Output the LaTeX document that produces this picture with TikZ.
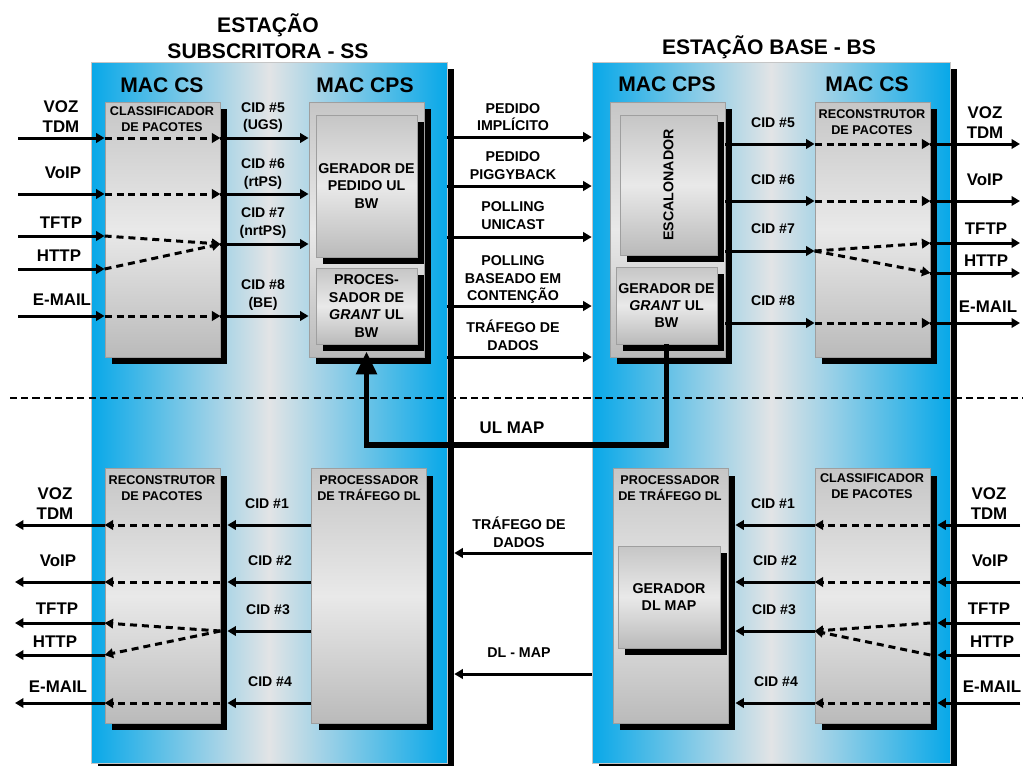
\documentclass[tikz,border=0pt]{standalone}
\usepackage{fontspec}
\setmainfont{Liberation Sans}
\usepackage{tikz}
\usetikzlibrary{arrows.meta,positioning,shadows,calc}
\definecolor{stblue}{RGB}{8,168,232}
\definecolor{stmid}{RGB}{226,228,230}
\definecolor{boxtop}{RGB}{198,198,198}
\definecolor{boxmid}{RGB}{233,233,233}
\definecolor{boxbot}{RGB}{186,186,186}
\tikzset{
  stbox/.style={draw=gray!45, left color=stblue, right color=stblue, middle color=stmid,
                minimum height=14.02cm, inner sep=0pt,
                drop shadow={shadow xshift=0.14cm, shadow yshift=-0.14cm, fill=black, opacity=1}},
  gbox/.style={draw=gray!75, line width=0.5pt, top color=boxtop, bottom color=boxbot,
               middle color=boxmid, minimum width=2.3cm, minimum height=5.1cm,
               inner sep=0pt, align=center, font=\fontsize{8.1}{9.9}\selectfont\bfseries,
               drop shadow={shadow xshift=0.14cm, shadow yshift=-0.14cm, fill=black, opacity=1}},
  vtxt/.style={rotate=90, font=\fontsize{8.1}{9.9}\selectfont\bfseries},
  ttl/.style={font=\fontsize{12}{14.7}\selectfont\bfseries, align=center},
  mac/.style={font=\fontsize{12}{14}\selectfont\bfseries},
  iolbl/.style={font=\fontsize{9.6}{11.3}\selectfont\bfseries, align=center},
  cid/.style={font=\fontsize{8}{10}\selectfont\bfseries, align=center},
  msg/.style={font=\fontsize{8.1}{10}\selectfont\bfseries, align=center},
  hdr/.style={font=\fontsize{7.2}{9.1}\selectfont\bfseries, align=center},
  arr/.style={line width=1.7pt, -{Triangle[length=1.7mm,width=1.9mm]}},
  dsh/.style={arr, dash pattern=on 4pt off 2.8pt},
  ulmap/.style={line width=3.4pt, line join=miter, -{Triangle[length=4.6mm,width=4mm]}},
  divider/.style={line width=1.3pt, dash pattern=on 4pt off 2.4pt}
}
\begin{document}
\begin{tikzpicture}[x=0.02cm, y=-0.02cm, every node/.style={inner sep=0pt}]
\useasboundingbox (0,0) rectangle (1023,765);

% estacoes
\node[stbox, minimum width=7.12cm] (ssBox) at (269,412.5) {};
\node[stbox, minimum width=7.16cm] (bsBox) at (771,412.5) {};
\node[ttl] (ssTtl) at (268,36) {ESTAÇÃO\\SUBSCRITORA - SS};
\node[ttl] (bsTtl) at (769,47) {ESTAÇÃO BASE - BS};
\node[mac] (ssCs) at (162,85) {MAC CS};
\node[mac] (ssCps) at (365,85) {MAC CPS};
\node[mac] (bsCps) at (667,84) {MAC CPS};
\node[mac] (bsCs) at (867,84) {MAC CS};

% blocos SS
\node[gbox] (clsS) at (162.5,229.5) {};
\node[gbox] (cpsS) at (366.5,229.5) {};
\node[gbox, minimum width=2.02cm, minimum height=2.84cm] (pedS) at (366.5,186) {GERADOR DE\\PEDIDO UL\\BW};
\node[gbox, minimum width=2.02cm, minimum height=1.52cm] (procS) at (366.5,306) {PROCES-\\SADOR DE\\\textit{GRANT} UL\\BW};
\node[gbox] (recS) at (162.5,596) {};
\node[gbox] (dlS) at (369,596) {};
\node[hdr] (clsSt) at (162,119) {CLASSIFICADOR\\DE PACOTES};
\node[hdr] (recSt) at (162,488) {RECONSTRUTOR\\DE PACOTES};
\node[hdr] (dlSt) at (369,488) {PROCESSADOR\\DE TRÁFEGO DL};

% blocos BS
\node[gbox] (cpsB) at (667.5,229.5) {};
\node[gbox, minimum width=1.94cm, minimum height=2.8cm] (escB) at (668.5,185) {};
\node[vtxt] (escBt) at (escB.center) {ESCALONADOR};
\node[gbox, minimum width=2.02cm, minimum height=1.54cm] (grantB) at (666.5,305.5) {GERADOR DE\\\textit{GRANT} UL\\BW};
\node[gbox] (recB) at (872.5,229.5) {};
\node[gbox] (dlB) at (670.5,596) {};
\node[gbox, minimum width=2.04cm, minimum height=2.04cm] (mapB) at (669,597) {GERADOR\\DL MAP};
\node[gbox] (clsB) at (872.5,596) {};
\node[hdr] (recBt) at (872,122) {RECONSTRUTOR\\DE PACOTES};
\node[hdr] (dlBt) at (670,488) {PROCESSADOR\\DE TRÁFEGO DL};
\node[hdr] (clsBt) at (872,486) {CLASSIFICADOR\\DE PACOTES};

% rotulos SS uplink
\node[iolbl] (lVozS) at (61,117) {VOZ\\TDM};
\node[iolbl] (lVoipS) at (63,173) {VoIP};
\node[iolbl] (lTftpS) at (61,223) {TFTP};
\node[iolbl] (lHttpS) at (59,256) {HTTP};
\node[iolbl] (lMailS) at (62,300) {E-MAIL};
\node[cid] (cid5S) at (263,117.5) {CID \#5\\(UGS)};
\node[cid] (cid6S) at (263,174) {CID \#6\\(rtPS)};
\node[cid] (cid7S) at (263,223) {CID \#7\\(nrtPS)};
\node[cid] (cid8S) at (263,295) {CID \#8\\(BE)};

% rotulos entre estacoes
\node[msg] (lImp) at (513,117) {PEDIDO\\IMPLÍCITO};
\node[msg] (lPig) at (513,165.5) {PEDIDO\\PIGGYBACK};
\node[msg] (lUni) at (513,215.5) {POLLING\\UNICAST};
\node[msg] (lCon) at (513,279.5) {POLLING\\BASEADO EM\\CONTENÇÃO};
\node[msg] (lDadU) at (513,335.5) {TRÁFEGO DE\\DADOS};
\node[iolbl] (lUlm) at (512,428) {UL MAP};
\node[msg] (lDadD) at (519,532.5) {TRÁFEGO DE\\DADOS};
\node[msg] (lDlm) at (519,653) {DL - MAP};

% rotulos BS uplink
\node[cid] (cid5B) at (773,123) {CID \#5};
\node[cid] (cid6B) at (773,180) {CID \#6};
\node[cid] (cid7B) at (773,229) {CID \#7};
\node[cid] (cid8B) at (773,301) {CID \#8};
\node[iolbl] (lVozB) at (985,123) {VOZ\\TDM};
\node[iolbl] (lVoipB) at (985,180) {VoIP};
\node[iolbl] (lTftpB) at (986,229) {TFTP};
\node[iolbl] (lHttpB) at (986,261) {HTTP};
\node[iolbl] (lMailB) at (988,307) {E-MAIL};

% rotulos downlink
\node[iolbl] (dVozS) at (55,503.5) {VOZ\\TDM};
\node[iolbl] (dVoipS) at (58,561) {VoIP};
\node[iolbl] (dTftpS) at (57,609) {TFTP};
\node[iolbl] (dHttpS) at (55,642) {HTTP};
\node[iolbl] (dMailS) at (58,687) {E-MAIL};
\node[cid] (cid1S) at (267,504) {CID \#1};
\node[cid] (cid2S) at (270,561) {CID \#2};
\node[cid] (cid3S) at (268,610) {CID \#3};
\node[cid] (cid4S) at (270,682) {CID \#4};
\node[cid] (cid1B) at (773,504) {CID \#1};
\node[cid] (cid2B) at (775,561) {CID \#2};
\node[cid] (cid3B) at (774,610) {CID \#3};
\node[cid] (cid4B) at (776,682) {CID \#4};
\node[iolbl] (dVozB) at (989,503.5) {VOZ\\TDM};
\node[iolbl] (dVoipB) at (990,561) {VoIP};
\node[iolbl] (dTftpB) at (989,609) {TFTP};
\node[iolbl] (dHttpB) at (992,642) {HTTP};
\node[iolbl] (dMailB) at (992,687) {E-MAIL};

% divisao UL / DL
\coordinate (dvL) at (10,398);
\coordinate (dvR) at (1023,398);
\draw[divider] (dvL) -- (dvR);

% SS uplink
\coordinate (inVozS) at (18,138);
\coordinate (inVoipS) at (18,194);
\coordinate (inTftpS) at (18,236);
\coordinate (inHttpS) at (18,269);
\coordinate (inMailS) at (18,316);
\coordinate (mrgS) at (clsS.east |- 0,244);
\draw[arr] (inVozS) -- (clsS.west |- inVozS);
\draw[dsh] (clsS.west |- inVozS) -- (clsS.east |- inVozS);
\draw[arr] (clsS.east |- inVozS) -- (cpsS.west |- inVozS);
\draw[arr] (inVoipS) -- (clsS.west |- inVoipS);
\draw[dsh] (clsS.west |- inVoipS) -- (clsS.east |- inVoipS);
\draw[arr] (clsS.east |- inVoipS) -- (cpsS.west |- inVoipS);
\draw[arr] (inTftpS) -- (clsS.west |- inTftpS);
\draw[arr] (inHttpS) -- (clsS.west |- inHttpS);
\draw[dsh] (clsS.west |- inTftpS) -- (mrgS);
\draw[dsh] (clsS.west |- inHttpS) -- (mrgS);
\draw[arr] (mrgS) -- (cpsS.west |- mrgS);
\draw[arr] (inMailS) -- (clsS.west |- inMailS);
\draw[dsh] (clsS.west |- inMailS) -- (clsS.east |- inMailS);
\draw[arr] (clsS.east |- inMailS) -- (cpsS.west |- inMailS);

% SS -> BS
\coordinate (pImp) at (ssBox.east |- 0,137);
\coordinate (pPig) at (ssBox.east |- 0,186);
\coordinate (pUni) at (ssBox.east |- 0,237);
\coordinate (pCon) at (ssBox.east |- 0,306);
\coordinate (pDad) at (ssBox.east |- 0,357);
\draw[arr] (pImp) -- (bsBox.west |- pImp);
\draw[arr] (pPig) -- (bsBox.west |- pPig);
\draw[arr] (pUni) -- (bsBox.west |- pUni);
\draw[arr] (pCon) -- (bsBox.west |- pCon);
\draw[arr] (pDad) -- (bsBox.west |- pDad);

% BS uplink
\coordinate (c5B) at (cpsB.east |- 0,144);
\coordinate (c6B) at (cpsB.east |- 0,201);
\coordinate (c7B) at (cpsB.east |- 0,251);
\coordinate (c8B) at (cpsB.east |- 0,323);
\coordinate (outVozB) at (1020,144);
\coordinate (outVoipB) at (1020,201);
\coordinate (outTftpB) at (1020,243);
\coordinate (outHttpB) at (1020,273);
\coordinate (outMailB) at (1020,323);
\draw[arr] (c5B) -- (recB.west |- c5B);
\draw[dsh] (recB.west |- c5B) -- (recB.east |- c5B);
\draw[arr] (recB.east |- c5B) -- (outVozB);
\draw[arr] (c6B) -- (recB.west |- c6B);
\draw[dsh] (recB.west |- c6B) -- (recB.east |- c6B);
\draw[arr] (recB.east |- c6B) -- (outVoipB);
\draw[arr] (c7B) -- (recB.west |- c7B);
\draw[dsh] (recB.west |- c7B) -- (recB.east |- outTftpB);
\draw[dsh] (recB.west |- c7B) -- (recB.east |- outHttpB);
\draw[arr] (recB.east |- outTftpB) -- (outTftpB);
\draw[arr] (recB.east |- outHttpB) -- (outHttpB);
\draw[arr] (c8B) -- (recB.west |- c8B);
\draw[dsh] (recB.west |- c8B) -- (recB.east |- c8B);
\draw[arr] (recB.east |- c8B) -- (outMailB);

% UL MAP
\coordinate (ulTurn) at (515,445);
\draw[ulmap] (grantB.south) |- (ulTurn) -| ($(procS.south)+(0,7)$);

% SS downlink
\coordinate (c1S) at (dlS.west |- 0,525);
\coordinate (c2S) at (dlS.west |- 0,582);
\coordinate (c3S) at (dlS.west |- 0,631);
\coordinate (c4S) at (dlS.west |- 0,703);
\coordinate (outVozS) at (15,525);
\coordinate (outVoipS) at (15,582);
\coordinate (outTftpS) at (15,623);
\coordinate (outHttpS) at (15,655);
\coordinate (outMailS) at (15,703);
\draw[arr] (c1S) -- ($(recS.east |- c1S)+(7,0)$);
\draw[dsh] (recS.east |- c1S) -- (recS.west |- c1S);
\draw[arr] (recS.west |- c1S) -- (outVozS);
\draw[arr] (c2S) -- ($(recS.east |- c2S)+(7,0)$);
\draw[dsh] (recS.east |- c2S) -- (recS.west |- c2S);
\draw[arr] (recS.west |- c2S) -- (outVoipS);
\draw[arr] (c3S) -- ($(recS.east |- c3S)+(7,0)$);
\draw[dsh] (recS.east |- c3S) -- (recS.west |- outTftpS);
\draw[dsh] (recS.east |- c3S) -- (recS.west |- outHttpS);
\draw[arr] (recS.west |- outTftpS) -- (outTftpS);
\draw[arr] (recS.west |- outHttpS) -- (outHttpS);
\draw[arr] (c4S) -- ($(recS.east |- c4S)+(7,0)$);
\draw[dsh] (recS.east |- c4S) -- (recS.west |- c4S);
\draw[arr] (recS.west |- c4S) -- (outMailS);

% BS -> SS
\coordinate (pDadD) at (bsBox.west |- 0,553);
\coordinate (pDlm) at (bsBox.west |- 0,674);
\draw[arr] (pDadD) -- ($(ssBox.east |- pDadD)+(7,0)$);
\draw[arr] (pDlm) -- ($(ssBox.east |- pDlm)+(7,0)$);

% BS downlink
\coordinate (inVozB) at (1020,525);
\coordinate (inVoipB) at (1020,582);
\coordinate (inTftpB) at (1020,623);
\coordinate (inHttpB) at (1020,655);
\coordinate (inMailB) at (1020,703);
\coordinate (mrgB) at (clsB.west |- 0,631);
\draw[arr] (inVozB) -- ($(clsB.east |- inVozB)+(7,0)$);
\draw[dsh] (clsB.east |- inVozB) -- (clsB.west |- inVozB);
\draw[arr] (clsB.west |- inVozB) -- ($(dlB.east |- inVozB)+(7,0)$);
\draw[arr] (inVoipB) -- ($(clsB.east |- inVoipB)+(7,0)$);
\draw[dsh] (clsB.east |- inVoipB) -- (clsB.west |- inVoipB);
\draw[arr] (clsB.west |- inVoipB) -- ($(dlB.east |- inVoipB)+(7,0)$);
\draw[arr] (inTftpB) -- ($(clsB.east |- inTftpB)+(7,0)$);
\draw[arr] (inHttpB) -- ($(clsB.east |- inHttpB)+(7,0)$);
\draw[dsh] (clsB.east |- inTftpB) -- (mrgB);
\draw[dsh] (clsB.east |- inHttpB) -- (mrgB);
\draw[arr] (mrgB) -- ($(dlB.east |- mrgB)+(7,0)$);
\draw[arr] (inMailB) -- ($(clsB.east |- inMailB)+(7,0)$);
\draw[dsh] (clsB.east |- inMailB) -- (clsB.west |- inMailB);
\draw[arr] (clsB.west |- inMailB) -- ($(dlB.east |- inMailB)+(7,0)$);
\end{tikzpicture}
\end{document}
